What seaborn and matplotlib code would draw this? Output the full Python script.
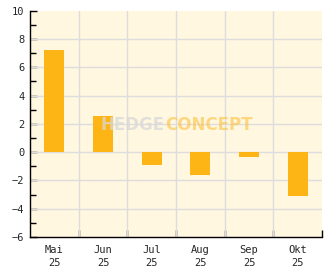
import matplotlib
matplotlib.use("Agg")
import matplotlib.pyplot as plt
import seaborn as sns
import pandas as pd
from matplotlib.ticker import MultipleLocator

months = ["Mai\n25", "Jun\n25", "Jul\n25", "Aug\n25", "Sep\n25", "Okt\n25"]
values = [7.2, 2.55, -0.9, -1.6, -0.33, -3.1]

df = pd.DataFrame({"month": months, "value": values})

sns.set_style("white")
plt.rcParams['font.family'] = ['DejaVu Sans Mono']

fig = plt.figure(figsize=(3.32, 2.69), dpi=100)
ax = fig.add_axes([30/332, 1-237/269, 292/332, (237-10.7)/269])
ax.set_facecolor("#FFF7E0")

sns.barplot(data=df, x="month", y="value", color="#FDB515", width=0.41,
            saturation=1, linewidth=0, edgecolor="none", ax=ax, zorder=3)

ax.set_ylim(-6, 10)
ax.set_xlim(-0.5, len(months)-0.5)
ax.yaxis.set_minor_locator(MultipleLocator(1))
ax.set_xticks(range(len(months)))
ax.set_xticklabels(months, fontsize=7.5, linespacing=1.3)
ax.set_xticks([i + 0.5 for i in range(len(months))], minor=True)
ax.tick_params(axis="x", which="major", bottom=True, length=0, pad=6)
ax.tick_params(axis="x", which="minor", bottom=True, direction="in", length=5, width=1, color="black")
ax.tick_params(axis="y", which="major", left=True, direction="in", length=5, width=1,
               color="black", labelsize=7.5, pad=4)
ax.tick_params(axis="y", which="minor", left=True, direction="in", length=4, width=1, color="black")
ax.set_yticks(range(-6, 11, 2))
ax.set_yticklabels([f"{t}".replace("-", "\u2212") for t in range(-6, 11, 2)])

for y in range(-4, 10, 2):
    ax.axhline(y, color="#DDDDDD", lw=1, zorder=1)
for x in [i + 0.5 for i in range(len(months)-1)]:
    ax.axvline(x, color="#DDDDDD", lw=1, zorder=1)

for side in ["top", "right"]:
    ax.spines[side].set_visible(False)
ax.spines["left"].set_color("black")
ax.spines["bottom"].set_color("black")
ax.spines["left"].set_linewidth(1)
ax.spines["bottom"].set_linewidth(1)
ax.set_xlabel("")
ax.set_ylabel("")

fig.text(100/332, 1-124.5/269, "HEDGE", fontsize=12, fontweight="bold",
         family="DejaVu Sans", color="#D8D8D8", alpha=0.75,
         ha="left", va="center", zorder=10)
fig.text(165/332, 1-124.5/269, "CONCEPT", fontsize=12, fontweight="bold",
         family="DejaVu Sans", color="#FDC040", alpha=0.6,
         ha="left", va="center", zorder=10)

fig.savefig("out.png", dpi=100, facecolor="white")
